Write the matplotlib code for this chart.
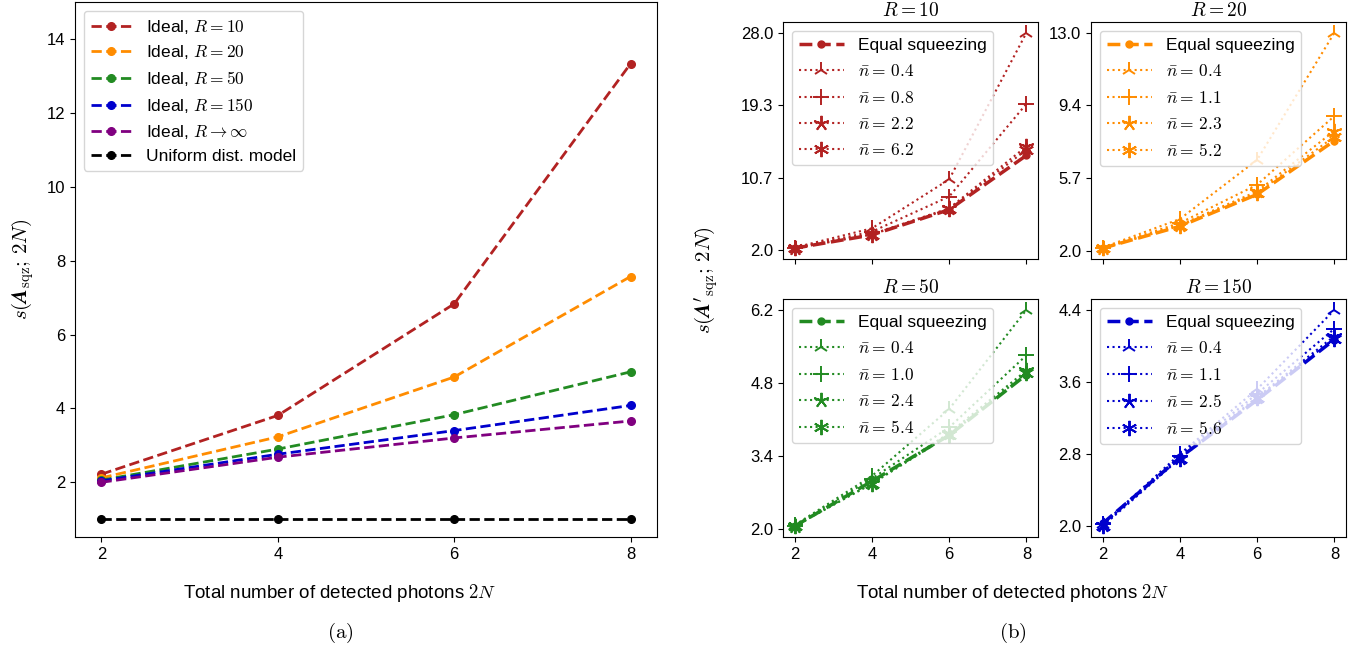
import numpy as np
import matplotlib

matplotlib.use("Agg")
import matplotlib.pyplot as plt

# --------------------------------------------------------------------------- #
# Data
# --------------------------------------------------------------------------- #
N_PHOTONS = [2, 4, 6, 8]

# (a) ideal model for several R, plus the uniform distribution model
IDEAL_LABELS = [
    r"Ideal, $R=10$",
    r"Ideal, $R=20$",
    r"Ideal, $R=50$",
    r"Ideal, $R=150$",
    r"Ideal, $R\to\infty$",
    "Uniform dist. model",
]
IDEAL_R10 = [2.22, 3.81, 6.83, 13.33]
IDEAL_R20 = [2.12, 3.23, 4.85, 7.57]
IDEAL_R50 = [2.06, 2.90, 3.83, 4.99]
IDEAL_R150 = [2.04, 2.76, 3.40, 4.08]
IDEAL_RINF = [2.00, 2.68, 3.20, 3.66]
UNIFORM = [1.0, 1.0, 1.0, 1.0]

# (b) equal squeezing vs. thermal noise nbar, one panel per R
R_VALUES = [10, 20, 50, 150]

NBAR_R10 = ["0.4", "0.8", "2.2", "6.2"]
EQ_R10 = [2.22, 3.81, 6.83, 13.33]
R10_N1 = [2.30, 4.60, 10.45, 28.00]
R10_N2 = [2.25, 4.20, 8.40, 19.50]
R10_N3 = [2.22, 3.90, 7.00, 14.40]
R10_N4 = [2.22, 3.85, 6.90, 14.00]

NBAR_R20 = ["0.4", "1.1", "2.3", "5.2"]
EQ_R20 = [2.12, 3.23, 4.85, 7.57]
R20_N1 = [2.15, 3.60, 6.60, 13.04]
R20_N2 = [2.13, 3.40, 5.34, 8.82]
R20_N3 = [2.12, 3.30, 5.00, 8.07]
R20_N4 = [2.12, 3.25, 4.92, 7.78]

NBAR_R50 = ["0.4", "1.0", "2.4", "5.4"]
EQ_R50 = [2.06, 2.92, 3.80, 4.96]
R50_N1 = [2.08, 3.02, 4.30, 6.20]
R50_N2 = [2.07, 2.97, 3.95, 5.33]
R50_N3 = [2.06, 2.88, 3.84, 5.04]
R50_N4 = [2.06, 2.87, 3.80, 4.99]

NBAR_R150 = ["0.4", "1.1", "2.5", "5.6"]
EQ_R150 = [2.03, 2.76, 3.40, 4.07]
R150_N1 = [2.02, 2.80, 3.52, 4.40]
R150_N2 = [2.02, 2.78, 3.47, 4.19]
R150_N3 = [2.01, 2.76, 3.43, 4.11]
R150_N4 = [2.00, 2.75, 3.42, 4.08]

COLORS = ["firebrick", "darkorange", "forestgreen", "mediumblue", "purple", "black"]
NBAR_MARKERS = ["2", "+", (5, 2, 0), (6, 2, 0)]

plt.rcParams["font.family"] = ["Liberation Sans", "DejaVu Sans"]
plt.rcParams["mathtext.fontset"] = "cm"
plt.rcParams["font.size"] = 12

W, H = 1369, 656


def px_axes(fig, x0, y0, x1, y1):
    """Axes from pixel box (top-left origin)."""
    return fig.add_axes([x0 / W, 1 - y1 / H, (x1 - x0) / W, (y1 - y0) / H])


fig = plt.figure(figsize=(W / 100, H / 100), dpi=100)

# --------------------------------------------------------------------------- #
# (a) left panel
# --------------------------------------------------------------------------- #
ax = px_axes(fig, 75, 2, 657, 537)
ideal = [IDEAL_R10, IDEAL_R20, IDEAL_R50, IDEAL_R150, IDEAL_RINF, UNIFORM]
for vals, lab, col in zip(ideal, IDEAL_LABELS, COLORS):
    ax.plot(N_PHOTONS, vals, "o--", color=col, lw=2, ms=5.5, label=lab)
ax.set_ylim(0.52, 15.0)
ax.set_xticks(N_PHOTONS)
ax.set_yticks([2, 4, 6, 8, 10, 12, 14])
ax.tick_params(labelsize=12)
ax.legend(loc="upper left", fontsize=12.5, handlelength=2.4, labelspacing=0.45)
ax.set_ylabel(r"$s(\boldsymbol{A}_{\rm sqz};\, 2N)$", fontsize=15, labelpad=8)

fig.text(340 / W, 1 - 593 / H, r"Total number of detected photons $2N$",
         ha="center", va="center", fontsize=13.5)
fig.text(340 / W, 1 - 633 / H, r"$\mathrm{(a)}$", ha="center", va="center", fontsize=15)

# --------------------------------------------------------------------------- #
# (b) right 2x2 panels
# --------------------------------------------------------------------------- #
panels = [
    (NBAR_R10, EQ_R10, [R10_N1, R10_N2, R10_N3, R10_N4]),
    (NBAR_R20, EQ_R20, [R20_N1, R20_N2, R20_N3, R20_N4]),
    (NBAR_R50, EQ_R50, [R50_N1, R50_N2, R50_N3, R50_N4]),
    (NBAR_R150, EQ_R150, [R150_N1, R150_N2, R150_N3, R150_N4]),
]
boxes = [
    (783, 22, 1038, 259),
    (1091, 22, 1346, 259),
    (783, 299, 1038, 537),
    (1091, 299, 1346, 537),
]

for i, (R, (nbars, eq, curves), box) in enumerate(zip(R_VALUES, panels, boxes)):
    a = px_axes(fig, *box)
    col = COLORS[i]
    a.plot(N_PHOTONS, eq, "o--", color=col, lw=2.5, ms=5, label="Equal squeezing")
    for nb, vals, mk in zip(nbars, curves, NBAR_MARKERS):
        a.plot(N_PHOTONS, vals, ":", marker=mk, color=col, lw=1.5, ms=11, mew=1.4,
               label=r"$\bar{n}$" + r"$=\,$" + r"$" + nb + r"$")
    top = max(max(c) for c in curves + [eq])
    ticks = np.linspace(2.0, top, 4)
    a.set_yticks(ticks)
    a.set_yticklabels([f"{t:.1f}" for t in ticks])
    a.set_xticks(N_PHOTONS)
    if i < 2:
        a.set_xticklabels([])
    a.tick_params(labelsize=12)
    a.set_title(rf"$R={R}$", fontsize=14, pad=4)
    a.legend(loc="upper left", fontsize=12.5, handlelength=2.6, labelspacing=0.6)

fig.text(707 / W, 1 - 280 / H, r"$s(\boldsymbol{A}'_{\rm sqz};\, 2N)$",
         rotation=90, ha="center", va="center", fontsize=15)
fig.text(1013 / W, 1 - 593 / H, r"Total number of detected photons $2N$",
         ha="center", va="center", fontsize=13.5)
fig.text(1013 / W, 1 - 633 / H, r"$\mathrm{(b)}$", ha="center", va="center", fontsize=15)

fig.savefig("out.png", dpi=100)
